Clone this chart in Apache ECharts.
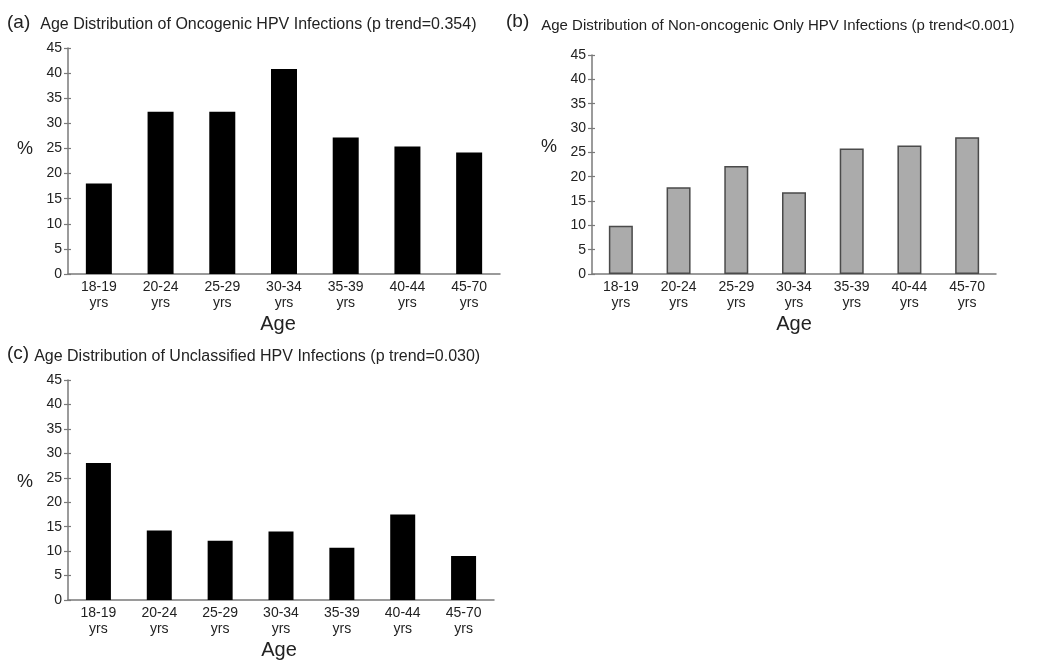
<!DOCTYPE html>
<html>
<head>
<meta charset="utf-8">
<script src="https://cdn.jsdelivr.net/npm/echarts@6/dist/echarts.min.js"></script>
<style>
html,body{margin:0;padding:0;background:#fff;}
#chart{width:1061px;height:664px;}
</style>
</head>
<body>
<div id="chart"></div>
<script>
const categories = ['18-19\nyrs','20-24\nyrs','25-29\nyrs','30-34\nyrs','35-39\nyrs','40-44\nyrs','45-70\nyrs'];
const oncogenic = [18.0, 32.3, 32.3, 40.8, 27.2, 25.4, 24.2];
const nonOncogenic = [9.9, 17.8, 22.2, 16.8, 25.8, 26.4, 28.1];
const unclassified = [28.0, 14.2, 12.1, 14.0, 10.7, 17.5, 9.0];
const yTicks = [0, 45, 5];

const FONT = '"Liberation Sans", Arial, Helvetica, sans-serif';
const TXT = '#222';
const AX = '#7a7a7a';

const panels = [
  {tag:'(a)', title:'Age Distribution of Oncogenic HPV Infections (p trend=0.354)', data: oncogenic,
   grid:{left:68, top:48, width:432, height:226}, color:'#000', border:'#000',
   tx:2, ty:7, gap:10, tfs:16, tpad:5, pctLH:24, agePad:12, barW:26},
  {tag:'(b)', title:'Age Distribution of Non-oncogenic Only HPV Infections (p trend<0.001)', data: nonOncogenic,
   grid:{left:592, top:55, width:404, height:219}, color:'#ababab', border:'#4a4a4a',
   tx:501, ty:6, gap:12, tfs:15, tpad:7, pctLH:35, agePad:0, barW:24},
  {tag:'(c)', title:'Age Distribution of Unclassified HPV Infections (p trend=0.030)', data: unclassified,
   grid:{left:68, top:380, width:426, height:220}, color:'#000', border:'#000',
   tx:2, ty:338, gap:5, tfs:16, tpad:6, pctLH:16, agePad:4, barW:25}
];

const option = {
  backgroundColor:'#fff',
  animation:false,
  title: panels.map(p => ({
    text: '{t|' + p.tag + '}{s|' + p.title + '}',
    left: p.tx, top: p.ty,
    textStyle:{ fontWeight:'normal', rich:{
      t:{fontSize:19, fontFamily:FONT, color:TXT, fontWeight:'normal'},
      s:{fontSize:p.tfs, fontFamily:FONT, color:TXT, fontWeight:'normal', padding:[p.tpad,0,0,p.gap]}
    }}
  })),
  grid: panels.map(p => Object.assign({containLabel:false}, p.grid)),
  xAxis: panels.map((p,i) => ({
    type:'category', gridIndex:i, data:categories,
    name:'Age', nameLocation:'middle', nameGap:40,
    nameTextStyle:{fontSize:20, fontFamily:FONT, color:TXT, padding:[0,p.agePad,0,0]},
    axisLine:{lineStyle:{color:AX, width:1.5}},
    axisTick:{show:false},
    axisLabel:{fontSize:14, fontFamily:FONT, color:TXT, lineHeight:16, margin:5, interval:0}
  })),
  yAxis: panels.flatMap((p,i) => [{
    type:'value', gridIndex:i, min:yTicks[0], max:yTicks[1], interval:yTicks[2],
    name:'%', nameLocation:'middle', nameGap:35, nameRotate:0,
    nameTextStyle:{fontSize:18, fontFamily:FONT, color:TXT, verticalAlign:'bottom', lineHeight:p.pctLH},
    splitLine:{show:false},
    axisLine:{show:true, lineStyle:{color:AX, width:1.5}},
    axisTick:{show:true, length:4, lineStyle:{color:AX, width:1.2}},
    axisLabel:{fontSize:14, fontFamily:FONT, color:TXT, margin:6}
  },{
    type:'value', gridIndex:i, min:yTicks[0], max:yTicks[1], interval:yTicks[2], position:'left',
    splitLine:{show:false}, axisLine:{show:false},
    axisTick:{show:true, inside:true, length:3, lineStyle:{color:AX, width:1.2}},
    axisLabel:{show:false}
  }]),
  series: panels.map((p,i) => ({
    type:'bar', xAxisIndex:i, yAxisIndex:i*2, data:p.data, barWidth:p.barW,
    itemStyle:{color:p.color, borderColor:p.border, borderWidth:p.border===p.color?0:1.5},
    silent:true
  }))
};

echarts.init(document.getElementById('chart'), null, {renderer:'canvas'}).setOption(option);
</script>
</body>
</html>
